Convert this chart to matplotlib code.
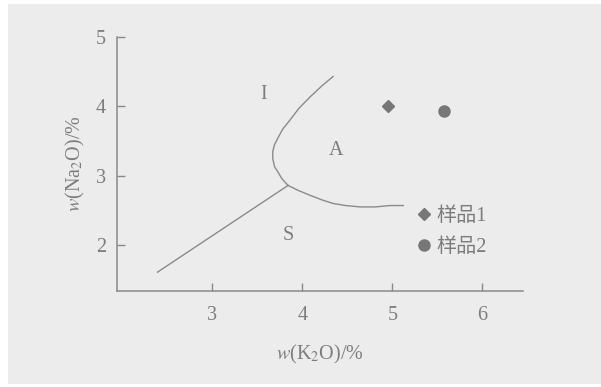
import matplotlib
matplotlib.use("Agg")
import matplotlib.pyplot as plt
from matplotlib.patches import Rectangle

# ---- data ----
# I / A boundary (upper curved line), K2O %, Na2O %
ia_k2o = [4.34, 4.22, 4.08, 3.96, 3.86, 3.78, 3.73, 3.69, 3.67, 3.67, 3.69, 3.73, 3.77, 3.84]
ia_na2o = [4.43, 4.30, 4.13, 3.97, 3.80, 3.67, 3.55, 3.45, 3.35, 3.25, 3.13, 3.05, 2.96, 2.86]
# A / S boundary (lower curved line)
as_k2o = [3.84, 3.95, 4.08, 4.22, 4.34, 4.48, 4.64, 4.81, 4.97, 5.12]
as_na2o = [2.86, 2.79, 2.72, 2.65, 2.60, 2.57, 2.55, 2.55, 2.57, 2.57]
# I / S boundary (straight line)
is_k2o = [2.39, 3.84]
is_na2o = [1.61, 2.86]

# samples
sample_names = ["样品1", "样品2"]
sample_k2o = [4.95, 5.57]
sample_na2o = [4.00, 3.94]
sample_markers = ["D", "o"]

# region labels
region_names = ["I", "A", "S"]
region_k2o = [3.57, 4.37, 3.84]
region_na2o = [4.17, 3.36, 2.14]

x_ticks = [3, 4, 5, 6]
y_ticks = [2, 3, 4, 5]

# ---- style ----
plt.rcParams["mathtext.fontset"] = "stix"
FONT = ["Liberation Serif", "Noto Sans CJK SC", "DejaVu Sans"]
plt.rcParams["font.family"] = FONT
TXT = "#7d7d7d"
LINE = "#8a8a8a"
MARK = "#777777"
FS = 14.5

fig = plt.figure(figsize=(6.01, 3.87), dpi=100, facecolor="white")
fig.patches.append(Rectangle((8 / 601, 3 / 387), 1 - 8 / 601, 1 - 7 / 387,
                             transform=fig.transFigure, facecolor="#ececec",
                             edgecolor="none", zorder=-10))
ax = fig.add_axes([117 / 601, 1 - 291 / 387, (523 - 117) / 601, (291 - 37) / 387])
ax.set_facecolor("none")

ax.plot(ia_k2o, ia_na2o, color=LINE, lw=1.0)
ax.plot(as_k2o, as_na2o, color=LINE, lw=1.0)
ax.plot(is_k2o, is_na2o, color=LINE, lw=1.0)

ms = [6.6, 8]
for name, xk, yn, m, s in zip(sample_names, sample_k2o, sample_na2o, sample_markers, ms):
    ax.plot([xk], [yn], linestyle="none", marker=m, markersize=s, color=MARK,
            markeredgecolor=MARK, label=name)

for name, xk, yn in zip(region_names, region_k2o, region_na2o):
    ax.text(xk, yn, name, fontsize=FS, color=TXT, ha="center", va="center")

ax.set_xlim(1.94, 6.45)
ax.set_ylim(1.338, 5.0)
ax.set_xticks(x_ticks)
ax.set_yticks(y_ticks)
ax.tick_params(direction="in", length=6, width=1, colors=LINE, labelcolor=TXT,
               labelsize=FS)
ax.tick_params(axis="x", pad=11)
ax.tick_params(axis="y", pad=8)
for side in ["top", "right"]:
    ax.spines[side].set_visible(False)
for side in ["left", "bottom"]:
    ax.spines[side].set_color(LINE)
    ax.spines[side].set_linewidth(1.1)

ax.set_xlabel(r"$w$(K$_2$O)/%", fontsize=FS, color=TXT, labelpad=13)
ax.set_ylabel(r"$w$(Na$_2$O)/%", fontsize=FS, color=TXT, labelpad=6)

leg = ax.legend(loc="center left", bbox_to_anchor=(406 / 601, 1 - 232 / 387),
                bbox_transform=fig.transFigure, frameon=False,
                handlelength=1.0, handletextpad=0.1, labelspacing=0.55,
                borderaxespad=0, borderpad=0.4, prop={"family": FONT, "size": FS})
for t in leg.get_texts():
    t.set_color(TXT)

fig.savefig("out.png", dpi=100, facecolor=fig.get_facecolor())
